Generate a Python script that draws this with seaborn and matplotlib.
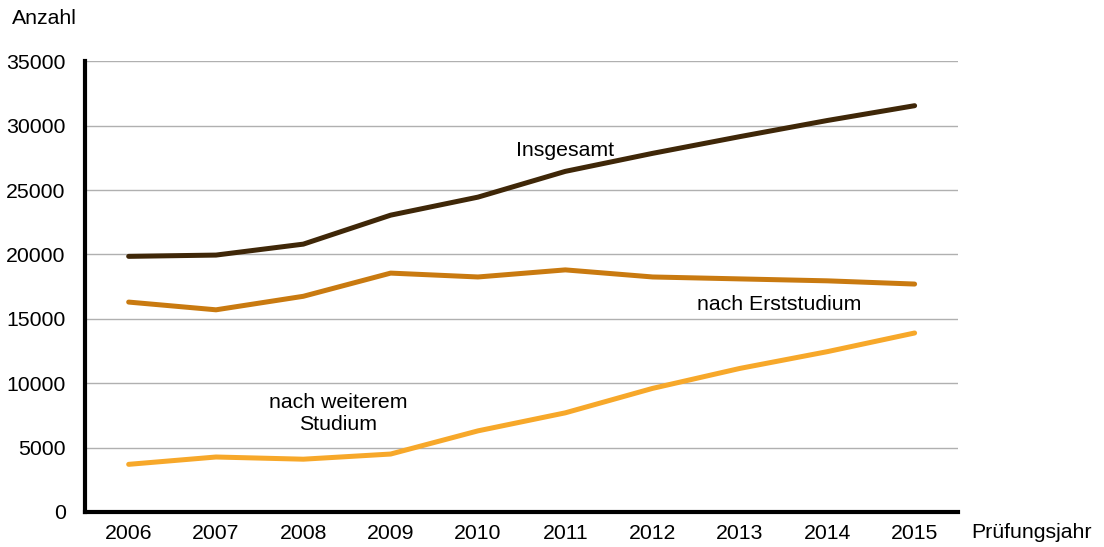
import seaborn as sns
import matplotlib.pyplot as plt
import pandas as pd
import numpy as np

# Prüfungsjahre und Werte
jahre = [2006, 2007, 2008, 2009, 2010, 2011, 2012, 2013, 2014, 2015]
insgesamt = [19850, 19950, 20800, 23050, 24450, 26450, 27850, 29150, 30400, 31550]
erststudium = [16300, 15700, 16750, 18550, 18250, 18800, 18250, 18100, 17950, 17700]
weiteres = [3700, 4270, 4100, 4500, 6300, 7700, 9600, 11150, 12450, 13900]

serien = ['Insgesamt', 'nach Erststudium', 'nach weiterem Studium']
farben = ['#3f2708', '#c97a10', '#f7a82a']

df = pd.DataFrame({'Jahr': jahre * 3,
                   'Anzahl': insgesamt + erststudium + weiteres,
                   'Serie': np.repeat(serien, len(jahre))})

sns.set_style('white')
plt.rcParams['font.family'] = ['Liberation Sans', 'DejaVu Sans']
plt.rcParams['text.color'] = 'black'
fs = 15.3

fig = plt.figure(figsize=(11.04, 5.47), dpi=100)
ax = fig.add_axes([0.077, 0.064, 0.791, 0.824])

sns.lineplot(data=df, x='Jahr', y='Anzahl', hue='Serie', palette=farben,
             linewidth=3.6, legend=False, ax=ax)

ax.set_xlim(2005.5, 2015.5)
ax.set_ylim(0, 35000)
ax.set_yticks(range(0, 35001, 5000))
ax.set_xticks(jahre)
ax.set_xticks(np.arange(2005.5, 2016, 1), minor=True)
ax.tick_params(axis='x', which='major', length=0, pad=9, labelsize=fs, labelcolor='black')
ax.tick_params(axis='x', which='minor', length=5, width=3, direction='out', color='black')
ax.tick_params(axis='y', length=0, pad=14, labelsize=fs, labelcolor='black')
ax.grid(axis='y', color='#b0b0b0', linewidth=1)
ax.set_axisbelow(True)

for s in ['top', 'right']:
    ax.spines[s].set_visible(False)
for s in ['left', 'bottom']:
    ax.spines[s].set_linewidth(3)
    ax.spines[s].set_color('black')

ax.set_xlabel('')
ax.set_ylabel('')
fig.text(0.011, 0.967, 'Anzahl', fontsize=fs, va='center', color='black')
fig.text(0.880, 0.026, 'Prüfungsjahr', fontsize=fs, va='center', color='black')

ax.text(2011.0, 28100, 'Insgesamt', fontsize=fs, ha='center', va='center', color='black')
ax.text(2013.45, 16150, 'nach Erststudium', fontsize=fs, ha='center', va='center', color='black')
ax.text(2008.4, 7650, 'nach weiterem\nStudium', fontsize=fs, ha='center',
        va='center', linespacing=1.2, color='black')

fig.savefig('out.png', dpi=100)
